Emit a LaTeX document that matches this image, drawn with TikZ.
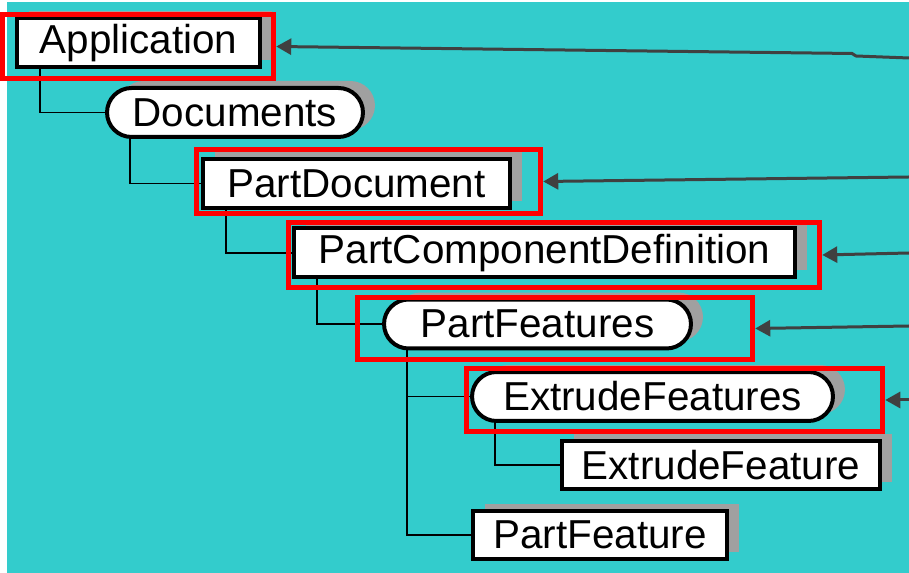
\documentclass[tikz,border=0pt]{standalone}
\usepackage{fontspec}
\setmainfont{Liberation Sans}
\usepackage{tikz}
\usetikzlibrary{arrows.meta}
\usetikzlibrary{fit}
\usetikzlibrary{shadows}
\definecolor{teal}{HTML}{33CCCC}
\definecolor{shadowgray}{HTML}{A0A0A0}
\definecolor{arrowgray}{HTML}{404040}
\tikzset{
    cls/.style = {draw,line width=0.08cm,fill=white,inner sep=0,minimum height=0.98cm,
        font=\fontsize{23}{27}\selectfont,
        drop shadow={shadow xshift=0.24cm,shadow yshift=0.14cm,fill=shadowgray,opacity=1}},
    coll/.style = {cls,rounded corners=0.49cm},
    sel/.style = {draw=red,line width=0.11cm,inner sep=0},
    tree/.style = {line width=0.8pt},
    ref/.style = {draw=arrowgray,line width=0.06cm,-{Triangle[length=0.3cm,width=0.32cm]}}
}
\begin{document}
\begin{tikzpicture}[x=0.02cm,y=-0.02cm]
        \newcommand*\stem{25}
        \useasboundingbox (0,0) rectangle (909,573);
        \fill[teal] (7,2) rectangle (909,573);
        % Objects
        \node[cls,minimum width=4.86cm] (app) at (138.5,43) {Application};
        \node[coll,minimum width=5.12cm] (docs) at (235,112.5) {Documents};
        \node[cls,minimum width=6.14cm] (pdoc) at (356.5,183.5) {PartDocument};
        \node[cls,minimum width=10.02cm] (pcd) at (544.5,253) {PartComponentDefinition};
        \node[coll,minimum width=6.14cm] (pfeats) at (537.5,324) {PartFeatures};
        \node[coll,minimum width=7.22cm] (xfeats) at (652.5,396.5) {ExtrudeFeatures};
        \node[cls,minimum width=6.36cm] (xfeat) at (721,465) {ExtrudeFeature};
        \node[cls,minimum width=5.08cm] (pfeat) at (600,535) {PartFeature};
        % Tree
        \foreach \parent/\child in {app/docs,docs/pdoc,pdoc/pcd,pcd/pfeats,pfeats/xfeats,pfeats/pfeat,xfeats/xfeat}
            \draw[tree] (\parent.south west) ++(\stem,0) |- (\child.west);
        % Selections
        \node[sel,fit={(2.5,14.5) (273.5,78.5)}] (appsel) {};
        \node[sel,fit={(196.5,149.5) (540.5,213.5)}] (pdocsel) {};
        \node[sel,fit={(288.5,222.5) (819.5,287.5)}] (pcdsel) {};
        \node[sel,fit={(357.5,297.5) (752.5,359.5)}] (pfeatssel) {};
        \node[sel,fit={(466.5,368.5) (882.5,431.5)}] (xfeatssel) {};
        % References from the right
        \coordinate (appsrc) at (909,58);
        \coordinate (pdocsrc) at (909,177);
        \coordinate (pcdsrc) at (909,253);
        \coordinate (pfeatssrc) at (909,326);
        \coordinate (xfeatssrc) at (909,400);
        \draw[ref] (appsrc) -- (856,56) -- (852,53.5) -- (appsel.east);
        \foreach \sel in {pdoc,pcd,pfeats,xfeats}
            \draw[ref] (\sel src) -- (\sel sel.east);
    \end{tikzpicture}
\end{document}
